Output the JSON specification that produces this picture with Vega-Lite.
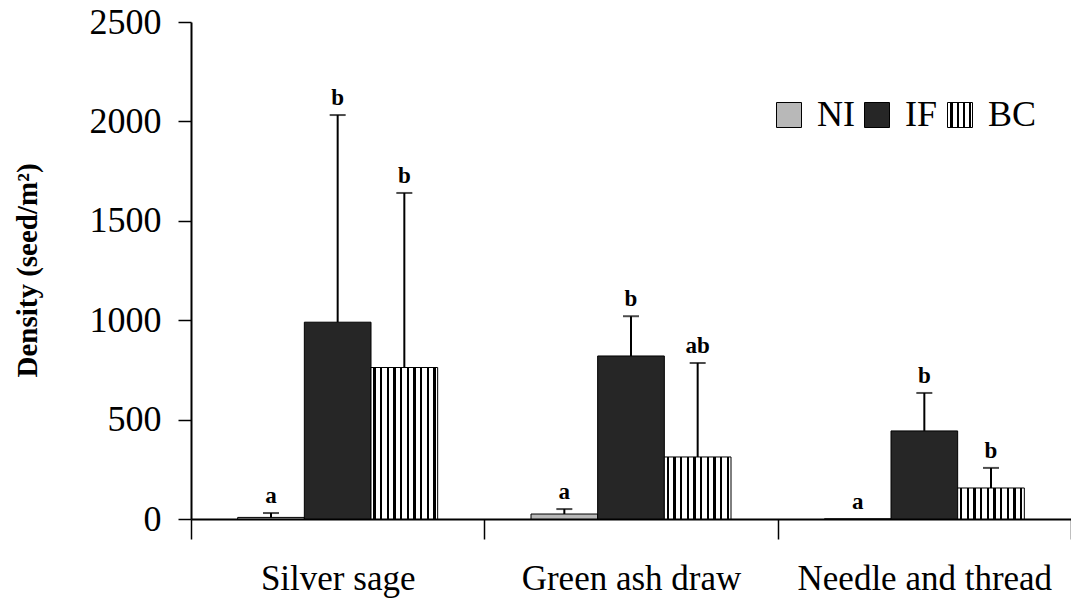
{
  "$schema": "https://vega.github.io/schema/vega-lite/v6.json",
  "width": 880,
  "height": 497,
  "autosize": "none",
  "padding": {"left": 191, "top": 22, "right": 0, "bottom": 82},
  "background": "white",
  "config": {"view": {"stroke": null}, "font": "Liberation Serif"},
  "data": {
    "values": [
      {"site": "Silver sage", "trt": "NI", "value": 8, "upper": 30, "sig": "a"},
      {"site": "Silver sage", "trt": "IF", "value": 990, "upper": 2032, "sig": "b"},
      {"site": "Silver sage", "trt": "BC", "value": 762, "upper": 1640, "sig": "b"},
      {"site": "Green ash draw", "trt": "NI", "value": 25, "upper": 50, "sig": "a"},
      {"site": "Green ash draw", "trt": "IF", "value": 820, "upper": 1020, "sig": "b"},
      {"site": "Green ash draw", "trt": "BC", "value": 312, "upper": 785, "sig": "ab"},
      {"site": "Needle and thread", "trt": "NI", "value": 0, "upper": 0, "sig": "a"},
      {"site": "Needle and thread", "trt": "IF", "value": 443, "upper": 634, "sig": "b"},
      {"site": "Needle and thread", "trt": "BC", "value": 156, "upper": 257, "sig": "b"}
    ]
  },
  "encoding": {
    "x": {
      "field": "site",
      "type": "nominal",
      "sort": ["Silver sage", "Green ash draw", "Needle and thread"],
      "scale": {"paddingInner": 0, "paddingOuter": 0},
      "axis": {
        "title": null,
        "labelAngle": 0,
        "labelLimit": 0,
        "labelFont": "Liberation Serif",
        "labelFontSize": 35,
        "labelColor": "black",
        "tickBand": "extent",
        "tickSize": 20,
        "tickColor": "black",
        "tickWidth": 1.5,
        "domainColor": "black",
        "domainWidth": 2,
        "labelPadding": 22
      }
    },
    "xOffset": {
      "field": "trt",
      "type": "nominal",
      "sort": ["NI", "IF", "BC"],
      "scale": {"paddingInner": 0, "paddingOuter": 0.7}
    }
  },
  "layer": [
    {
      "mark": {"type": "bar", "stroke": "black", "strokeWidth": 1},
      "encoding": {
        "y": {
          "field": "value",
          "type": "quantitative",
          "scale": {"domain": [0, 2500], "nice": false},
          "axis": {
            "values": [0, 500, 1000, 1500, 2000, 2500],
            "format": "d",
            "grid": false,
            "labelFlush": false,
            "labelFont": "Liberation Serif",
            "labelFontSize": 36,
            "labelColor": "black",
            "tickSize": 13,
            "tickColor": "black",
            "tickWidth": 1.5,
            "domainColor": "black",
            "domainWidth": 2,
            "labelPadding": 17,
            "title": "Density (seed/m²)",
            "titleFont": "Liberation Serif",
            "titleFontWeight": "bold",
            "titleFontSize": 29,
            "titleColor": "black",
            "titleAngle": -90,
            "titleX": -164,
            "titleY": 248,
            "titleAlign": "center",
            "titleBaseline": "middle",
            "titleLimit": 0
          }
        },
        "fill": {
          "condition": {
            "test": "datum.trt === 'BC'",
            "value": {
              "gradient": "linear",
              "x1": 0, "y1": 0, "x2": 1, "y2": 0,
              "stops": [
                {"offset": 0, "color": "white"}, {"offset": 0.035, "color": "white"}, {"offset": 0.035, "color": "black"}, {"offset": 0.07, "color": "black"}, {"offset": 0.07, "color": "white"},
                {"offset": 0.135, "color": "white"}, {"offset": 0.135, "color": "black"}, {"offset": 0.17, "color": "black"}, {"offset": 0.17, "color": "white"},
                {"offset": 0.235, "color": "white"}, {"offset": 0.235, "color": "black"}, {"offset": 0.27, "color": "black"}, {"offset": 0.27, "color": "white"},
                {"offset": 0.335, "color": "white"}, {"offset": 0.335, "color": "black"}, {"offset": 0.37, "color": "black"}, {"offset": 0.37, "color": "white"},
                {"offset": 0.435, "color": "white"}, {"offset": 0.435, "color": "black"}, {"offset": 0.47, "color": "black"}, {"offset": 0.47, "color": "white"},
                {"offset": 0.535, "color": "white"}, {"offset": 0.535, "color": "black"}, {"offset": 0.57, "color": "black"}, {"offset": 0.57, "color": "white"},
                {"offset": 0.635, "color": "white"}, {"offset": 0.635, "color": "black"}, {"offset": 0.67, "color": "black"}, {"offset": 0.67, "color": "white"},
                {"offset": 0.735, "color": "white"}, {"offset": 0.735, "color": "black"}, {"offset": 0.77, "color": "black"}, {"offset": 0.77, "color": "white"},
                {"offset": 0.835, "color": "white"}, {"offset": 0.835, "color": "black"}, {"offset": 0.87, "color": "black"}, {"offset": 0.87, "color": "white"},
                {"offset": 0.935, "color": "white"}, {"offset": 0.935, "color": "black"}, {"offset": 0.97, "color": "black"}, {"offset": 0.97, "color": "white"},
                {"offset": 1, "color": "white"}
              ]
            }
          },
          "field": "trt",
          "type": "nominal",
          "sort": ["NI", "IF", "BC"],
          "scale": {
            "domain": ["NI", "IF", "BC"],
            "range": [
              "#b8b8b8",
              "#262626",
              {"expr": "{gradient: 'linear', x1: 0, y1: 0, x2: 1, y2: 0, stops: [{offset: 0, color: 'white'}, {offset: 0.12, color: 'white'}, {offset: 0.12, color: 'black'}, {offset: 0.22, color: 'black'}, {offset: 0.22, color: 'white'}, {offset: 0.37, color: 'white'}, {offset: 0.37, color: 'black'}, {offset: 0.47, color: 'black'}, {offset: 0.47, color: 'white'}, {offset: 0.62, color: 'white'}, {offset: 0.62, color: 'black'}, {offset: 0.72, color: 'black'}, {offset: 0.72, color: 'white'}, {offset: 0.87, color: 'white'}, {offset: 0.87, color: 'black'}, {offset: 0.95, color: 'black'}, {offset: 0.95, color: 'white'}, {offset: 1, color: 'white'}]}"}
            ]
          },
          "legend": {
            "orient": "none",
            "legendX": 580,
            "legendY": 75,
            "direction": "horizontal",
            "title": null,
            "padding": 0,
            "symbolType": "square",
            "symbolSize": 625,
            "symbolStrokeColor": "black",
            "symbolStrokeWidth": 1,
            "symbolOpacity": 1,
            "labelFont": "Liberation Serif",
            "labelFontSize": 36,
            "labelColor": "black",
            "labelOffset": 10,
            "columnPadding": 4,
            "encode": {
              "symbols": {
                "update": {
                  "stroke": {"value": "black"},
                  "strokeWidth": {"value": 1}
                }
              }
            }
          }
        }
      }
    },
    {
      "transform": [{"filter": "datum.upper > datum.value"}],
      "mark": {"type": "rule", "color": "black", "strokeWidth": 2},
      "encoding": {
        "y": {"field": "value", "type": "quantitative"},
        "y2": {"field": "upper"}
      }
    },
    {
      "transform": [{"filter": "datum.upper > datum.value"}],
      "mark": {"type": "tick", "color": "black", "size": 16, "thickness": 2},
      "encoding": {
        "y": {"field": "upper", "type": "quantitative"}
      }
    },
    {
      "mark": {"type": "text", "fontWeight": "bold", "fontSize": 23, "font": "Liberation Serif", "baseline": "alphabetic", "dy": -10, "color": "black"},
      "encoding": {
        "y": {"field": "upper", "type": "quantitative"},
        "text": {"field": "sig"}
      }
    }
  ]
}
